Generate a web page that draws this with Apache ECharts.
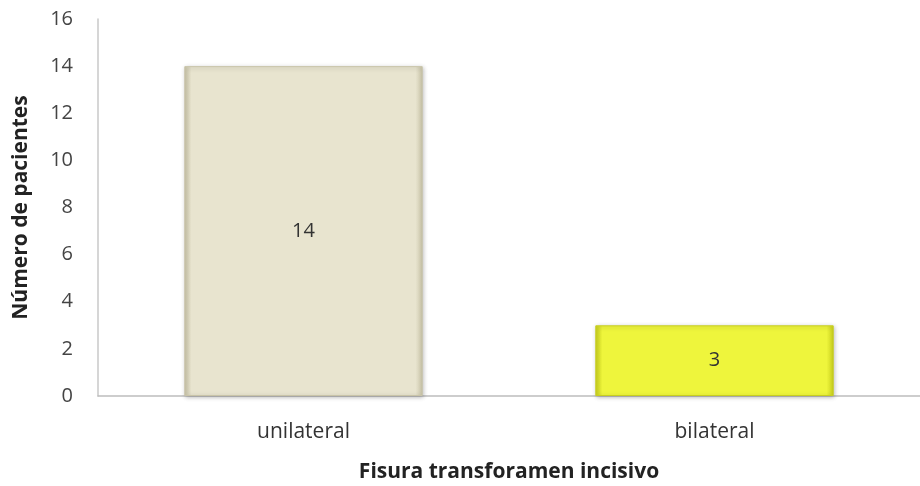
<!DOCTYPE html>
<html>
<head>
<meta charset="utf-8">
<script src="https://cdn.jsdelivr.net/npm/echarts@6/dist/echarts.min.js"></script>
<style>
  html, body { margin: 0; padding: 0; background: #fff; }
  #chart { width: 920px; height: 486px; }
</style>
</head>
<body>
<div id="chart"></div>
<script>
// datos del gráfico
const categories = ["unilateral", "bilateral"];
const patients = [14, 3];
const barColors = ["#e8e4cf", "#eef53c"];
const edgeColors = ["#c9c4a8", "#c8cf1e"];

const chart = echarts.init(document.getElementById("chart"));
const font = "'Open Sans', Lato, sans-serif";

const option = {
  backgroundColor: "#fff",
  animation: false,
  grid: { left: 98, right: 0, top: 19, bottom: 90, outerBoundsMode: "none", containLabel: false },
  xAxis: {
    type: "category",
    data: categories,
    name: "Fisura transforamen incisivo",
    nameLocation: "middle",
    nameGap: 66,
    nameTextStyle: { fontFamily: font, fontSize: 21, fontWeight: "bold", color: "#222" },
    axisLine: { lineStyle: { color: "#bdbdbd", width: 1.5 } },
    axisTick: { show: false },
    axisLabel: { fontFamily: font, fontSize: 21, color: "#333", margin: 26 }
  },
  yAxis: {
    type: "value",
    min: 0,
    max: 16,
    interval: 2,
    name: "Número de pacientes",
    nameLocation: "middle",
    nameGap: 66,
    nameTextStyle: { fontFamily: font, fontSize: 21, fontWeight: "bold", color: "#222" },
    axisLine: { show: true, lineStyle: { color: "#c8c8c8", width: 1.5 } },
    axisTick: { show: false },
    splitLine: { show: false },
    axisLabel: { fontFamily: font, fontSize: 20, color: "#444", margin: 25 }
  },
  series: [
    {
      type: "bar",
      barWidth: "58%",
      data: patients.map((v, i) => ({
        value: v,
        itemStyle: {
          color: {
            type: "linear", x: 0, y: 0, x2: 1, y2: 0,
            colorStops: [
              { offset: 0, color: edgeColors[i] },
              { offset: 0.03, color: barColors[i] },
              { offset: 0.97, color: barColors[i] },
              { offset: 1, color: edgeColors[i] }
            ]
          },
          borderColor: edgeColors[i],
          borderWidth: 1,
          shadowColor: "rgba(0,0,0,0.25)",
          shadowBlur: 4,
          shadowOffsetX: 1,
          shadowOffsetY: 1
        }
      })),
      label: {
        show: true,
        position: "inside",
        fontFamily: font,
        fontSize: 20,
        color: "#333"
      }
    }
  ]
};

chart.setOption(option);
</script>
</body>
</html>
